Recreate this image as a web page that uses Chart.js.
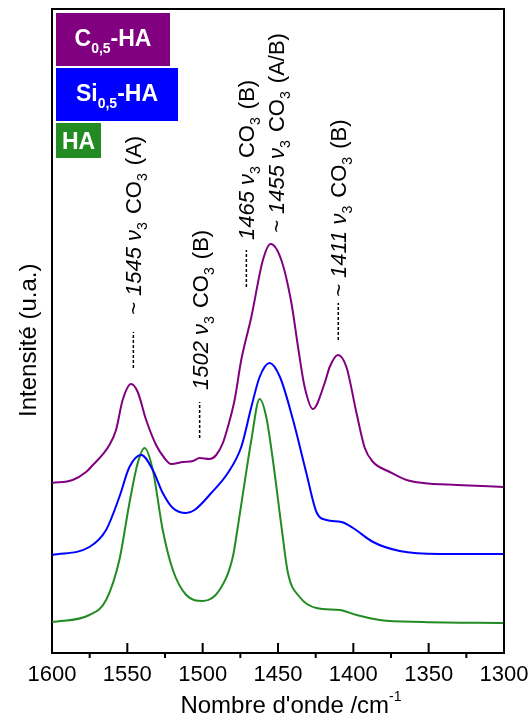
<!DOCTYPE html>
<html>
<head>
<meta charset="utf-8">
<script src="https://cdn.jsdelivr.net/npm/chart.js@4/dist/chart.umd.min.js"></script>
<style>
  html, body { margin: 0; padding: 0; background: #fff; }
</style>
</head>
<body>
<canvas id="spectre" width="532" height="720"></canvas>
<script>
// nombre d'onde (cm-1) et intensité (u.a.)
const wnC = [1600, 1586.3, 1577.4, 1574.1, 1561.9, 1557.5, 1553.1, 1547.5, 1543.1, 1537.5, 1530.9, 1525.4, 1520.9, 1513.2, 1506.5, 1502.1, 1495.4, 1491.0, 1486.6, 1483.3, 1478.8, 1474.4, 1467.7, 1460.0, 1454.9, 1447.8, 1441.1, 1436.7, 1432.3, 1426.8, 1419.0, 1415.7, 1410.2, 1404.6, 1397.9, 1392.4, 1386.9, 1375.8, 1364.7, 1353.7, 1331.4, 1300];
const intC = [170, 173, 181, 186, 208, 223, 253, 269, 261, 233, 208, 195, 189, 191, 192, 195, 194, 198, 210, 226, 253, 293, 336, 393, 409, 393, 350, 306, 266, 244, 270, 286, 298, 286, 240, 205, 191, 181, 173, 170, 168, 166];

const wnSi = [1600, 1575.2, 1564.1, 1555.3, 1548.6, 1540.8, 1533.1, 1526.5, 1519.8, 1510.9, 1505.4, 1494.3, 1483.3, 1474.4, 1467.7, 1462.2, 1455.6, 1448.7, 1440.0, 1431.2, 1424.5, 1417.9, 1407.9, 1400.2, 1386.9, 1369.2, 1342.6, 1300];
const intSi = [98, 106, 123, 156, 186, 198, 183, 160, 145, 140, 143, 160, 180, 206, 246, 276, 290, 276, 233, 180, 141, 133, 131, 125, 111, 102, 99, 99];

const wnHA = [1600, 1575.2, 1564.1, 1555.3, 1548.6, 1543.1, 1538.6, 1533.1, 1526.5, 1519.8, 1510.9, 1499.9, 1488.8, 1480.0, 1477.0, 1472.2, 1467.7, 1462.2, 1457.8, 1453.4, 1447.4, 1443.4, 1435.6, 1424.5, 1409.0, 1397.9, 1382.4, 1353.7, 1300];
const intHA = [31, 38, 53, 93, 150, 190, 205, 183, 123, 83, 58, 52, 63, 96, 123, 170, 213, 254, 236, 193, 123, 80, 56, 45, 43, 38, 33, 31, 30];

// légende : base, indice, suite
const seriesParts = [['C', '0,5', '-HA'], ['Si', '0,5', '-HA'], ['HA', '', '']];

// bandes annotées
const annNum = ['~ 1545', '1502', '1465', '~ 1455', '~ 1411'];
const annBand = ['(A)', '(B)', '(B)', '(A/B)', '(B)'];
const annWn = [1546, 1502, 1471, 1451, 1410];
const annDashLo = [285, 215, 366, null, 313];
const annDashHi = [321, 251, 403, null, 350];
const annTextStart = [338, 263, 413, 420, 356];

const xTicks = [1600, 1550, 1500, 1450, 1400, 1350, 1300];
const xMinor = [1575, 1525, 1475, 1425, 1375, 1325];

const PURPLE = '#800080';
const BLUE = '#0000ff';
const GREEN = '#228b22';
const FONT = '"Liberation Sans", Arial, sans-serif';

function pts(xs, ys) {
    return xs.map((x, i) => ({ x: x, y: ys[i] }));
}

function serie(label, xs, ys, color) {
    return {
        label: label,
        data: pts(xs, ys),
        borderColor: color,
        borderWidth: 2,
        pointRadius: 0,
        fill: false,
        cubicInterpolationMode: 'monotone'
    };
}

function drawRuns(ctx, x, y, runs) {
    // texte tourné de -90°, lu de bas en haut
    ctx.save();
    ctx.translate(x, y);
    ctx.rotate(-Math.PI / 2);
    ctx.textBaseline = 'alphabetic';
    ctx.textAlign = 'left';
    let cx = 0;
    runs.forEach(r => {
        ctx.font = r.font;
        ctx.fillText(r.t, cx, r.dy || 0);
        cx += ctx.measureText(r.t).width + (r.gap || 0);
    });
    ctx.restore();
}

const decorPlugin = {
    id: 'decor',
    afterDraw(chart) {
        const ctx = chart.ctx;
        const a = chart.chartArea;
        const xs = chart.scales.x;
        const ys = chart.scales.y;
        ctx.save();
        ctx.strokeStyle = '#000';
        ctx.lineWidth = 2;

        // cadre haut et droit
        ctx.beginPath();
        ctx.moveTo(a.left, a.top);
        ctx.lineTo(a.right, a.top);
        ctx.lineTo(a.right, a.bottom);
        ctx.stroke();

        // graduations majeures vers l'intérieur, mineures vers l'extérieur
        ctx.beginPath();
        xTicks.forEach(v => {
            const px = xs.getPixelForValue(v);
            ctx.moveTo(px, a.bottom);
            ctx.lineTo(px, a.bottom - 10);
        });
        xMinor.forEach(v => {
            const px = xs.getPixelForValue(v);
            ctx.moveTo(px, a.bottom);
            ctx.lineTo(px, a.bottom + 5);
        });
        ctx.stroke();

        // titres des axes
        ctx.fillStyle = '#000';
        ctx.font = '24px ' + FONT;
        const main = "Nombre d'onde /cm";
        const wMain = ctx.measureText(main).width;
        ctx.font = '14px ' + FONT;
        const wSup = ctx.measureText('-1').width;
        const tx = 291 - (wMain + wSup) / 2;
        ctx.font = '24px ' + FONT;
        ctx.textBaseline = 'alphabetic';
        ctx.fillText(main, tx, 713);
        ctx.font = '14px ' + FONT;
        ctx.fillText('-1', tx + wMain, 701);

        drawRuns(ctx, 36, 417, [
            { t: 'Intensité (u.a.)', font: '24px ' + FONT }
        ]);

        // annotations des bandes
        ctx.lineWidth = 1.5;
        ctx.setLineDash([3, 2]);
        annWn.forEach((w, i) => {
            const px = xs.getPixelForValue(w);
            if (annDashLo[i] !== null) {
                ctx.beginPath();
                ctx.moveTo(px, ys.getPixelForValue(annDashLo[i]));
                ctx.lineTo(px, ys.getPixelForValue(annDashHi[i]));
                ctx.stroke();
            }
        });
        ctx.setLineDash([]);
        const fN = '22px ' + FONT;
        const fI = 'italic 22px ' + FONT;
        const fS = '14px ' + FONT;
        annWn.forEach((w, i) => {
            const px = xs.getPixelForValue(w);
            drawRuns(ctx, px + 8, ys.getPixelForValue(annTextStart[i]), [
                { t: annNum[i] + ' ', font: fI },
                { t: 'ν', font: fI },
                { t: '3', font: fS, dy: 6, gap: 2 },
                { t: ' CO', font: fN },
                { t: '3', font: fS, dy: 6, gap: 2 },
                { t: ' ' + annBand[i], font: fN }
            ]);
        });

        // légende en cartouches colorés
        const boxes = [
            { x: 56, y: 13, w: 114, h: 53, c: PURPLE, base: 46 },
            { x: 56, y: 68, w: 122, h: 53, c: BLUE, base: 101 },
            { x: 56, y: 123, w: 45, h: 35, c: GREEN, base: 149 }
        ];
        const fB = 'bold 23px ' + FONT;
        const fBs = 'bold 14px ' + FONT;
        boxes.forEach((b, i) => {
            ctx.fillStyle = b.c;
            ctx.fillRect(b.x, b.y, b.w, b.h);
            const p = seriesParts[i];
            ctx.font = fB;
            const w0 = ctx.measureText(p[0]).width;
            const w2 = ctx.measureText(p[2]).width;
            ctx.font = fBs;
            const w1 = ctx.measureText(p[1]).width;
            let cx = b.x + (b.w - (w0 + w1 + w2)) / 2;
            ctx.fillStyle = '#fff';
            ctx.textAlign = 'left';
            ctx.font = fB;
            ctx.fillText(p[0], cx, b.base);
            cx += w0;
            ctx.font = fBs;
            ctx.fillText(p[1], cx, b.base + 7);
            cx += w1;
            ctx.font = fB;
            ctx.fillText(p[2], cx, b.base);
        });
        ctx.restore();
    }
};

new Chart(document.getElementById('spectre'), {
    type: 'line',
    data: {
        datasets: [
            serie('C0,5-HA', wnC, intC, PURPLE),
            serie('Si0,5-HA', wnSi, intSi, BLUE),
            serie('HA', wnHA, intHA, GREEN)
        ]
    },
    options: {
        responsive: false,
        animation: false,
        layout: { padding: { top: 9, right: 28, left: 0, bottom: 0 } },
        plugins: {
            legend: { display: false },
            tooltip: { enabled: false }
        },
        scales: {
            x: {
                type: 'linear',
                reverse: true,
                min: 1300,
                max: 1600,
                afterBuildTicks: s => { s.ticks = xTicks.map(v => ({ value: v })); },
                ticks: {
                    color: '#000',
                    padding: 9,
                    maxRotation: 0,
                    callback: v => String(v),
                    font: { family: FONT, size: 22 }
                },
                grid: { display: false, drawTicks: false },
                border: { display: true, color: '#000', width: 2 },
                afterFit: s => {
                    s.height = 67;
                    s.paddingLeft = 0;
                    s.paddingRight = 0;
                }
            },
            y: {
                min: 0,
                max: 644,
                ticks: { display: false },
                grid: { display: false, drawTicks: false },
                border: { display: true, color: '#000', width: 2 },
                afterFit: s => { s.width = 52; }
            }
        }
    },
    plugins: [decorPlugin]
});
</script>
</body>
</html>
